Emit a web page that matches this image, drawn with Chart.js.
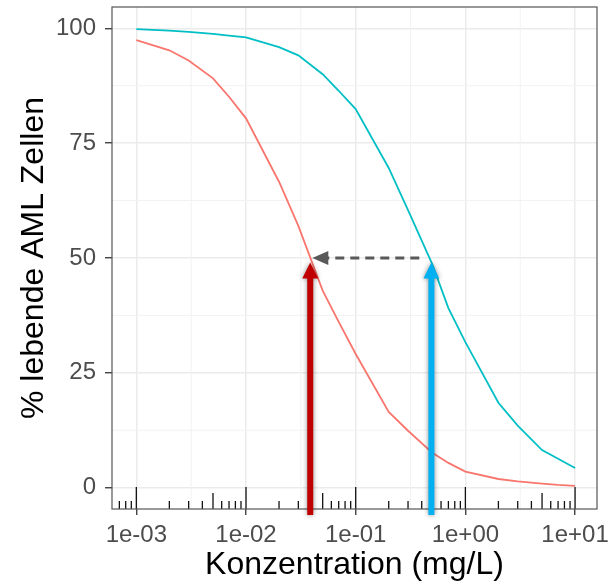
<!DOCTYPE html>
<html><head><meta charset="utf-8">
<script src="https://cdn.jsdelivr.net/npm/chart.js@4"></script>
<style>html,body{margin:0;padding:0;background:#fff}</style>
</head><body>
<canvas id="c" width="615" height="584" style="width:615px;height:584px;display:block"></canvas>
<script>
// ---- data ----
const concentrations = [0.001,0.002,0.003,0.005,0.007,0.01,0.02,0.03,0.05,0.07,0.1,0.2,0.3,0.5,0.7,1,2,3,5,7,10];
const survivalRed  = [97.4,95.2,93.0,89.1,85.1,80.4,66.6,57.0,42.9,36.1,29.1,16.5,12.4,7.6,5.4,3.5,1.9,1.4,0.9,0.6,0.4];
const survivalCyan = [99.8,99.5,99.2,98.8,98.4,98.0,95.9,94.1,90.0,86.4,82.4,69.6,60.4,48.6,39.1,31.7,18.5,13.5,8.2,6.3,4.3];
const xTickValues = [0.001,0.01,0.1,1,10];
const xTickLabels = ['1e-03','1e-02','1e-01','1e+00','1e+01'];
const yTickValues = [0,25,50,75,100];
const ic50Values = [0.0385, 0.49];   // red arrow, blue arrow
const arrowTipLevel = 49;
const shiftArrowFrom = 0.38, shiftArrowTo = 0.0402, shiftLevel = 50;

const FONT = "'Liberation Sans', Arial, sans-serif";

function arrowUp(ctx, x, yb, yt, color){
  const sw = 3, hw = 8, hl = 16;
  ctx.save();
  ctx.shadowColor = 'rgba(0,0,0,0.45)';
  ctx.shadowBlur = 5;
  ctx.fillStyle = color;
  ctx.beginPath();
  ctx.moveTo(x - sw, yb);
  ctx.lineTo(x - sw, yt + hl);
  ctx.lineTo(x - hw, yt + hl);
  ctx.lineTo(x, yt);
  ctx.lineTo(x + hw, yt + hl);
  ctx.lineTo(x + sw, yt + hl);
  ctx.lineTo(x + sw, yb);
  ctx.closePath();
  ctx.fill();
  ctx.restore();
}

const panelPlugin = {
  id: 'panel',
  beforeDatasetsDraw(chart){
    const {ctx, chartArea:a, scales:{x, y}} = chart;
    ctx.save();
    ctx.strokeStyle = '#F2F2F2';
    ctx.lineWidth = 1;
    for (let d = -4; d <= 1; d++){
      const px = x.getPixelForValue(Math.pow(10, d + 0.5));
      if (px > a.left && px < a.right){
        ctx.beginPath(); ctx.moveTo(px, a.top); ctx.lineTo(px, a.bottom); ctx.stroke();
      }
    }
    for (let i = 0; i < yTickValues.length - 1; i++){
      const py = y.getPixelForValue((yTickValues[i] + yTickValues[i+1]) / 2);
      ctx.beginPath(); ctx.moveTo(a.left, py); ctx.lineTo(a.right, py); ctx.stroke();
    }
    ctx.restore();
  },
  afterDatasetsDraw(chart){
    const {ctx, chartArea:a, scales:{x}} = chart;
    ctx.save();
    ctx.strokeStyle = '#111';
    ctx.lineWidth = 1.3;
    for (let d = -4; d <= 1; d++){
      for (let k = 1; k <= 9; k++){
        const px = x.getPixelForValue(k * Math.pow(10, d));
        if (px <= a.left + 1 || px >= a.right - 1) continue;
        const len = k === 1 ? 22 : (k === 5 ? 16 : 8);
        ctx.beginPath(); ctx.moveTo(px, a.bottom); ctx.lineTo(px, a.bottom - len); ctx.stroke();
      }
    }
    ctx.strokeStyle = '#555';
    ctx.lineWidth = 1.2;
    ctx.strokeRect(a.left, a.top, a.right - a.left, a.bottom - a.top);
    ctx.restore();
  },
  afterDraw(chart){
    const {ctx, chartArea:a, scales:{x, y}} = chart;
    const x1 = x.getPixelForValue(shiftArrowFrom);
    const x2 = x.getPixelForValue(shiftArrowTo);
    const yy = y.getPixelForValue(shiftLevel);
    ctx.save();
    ctx.strokeStyle = '#595959';
    ctx.fillStyle = '#595959';
    ctx.lineWidth = 3;
    ctx.setLineDash([9, 6]);
    ctx.beginPath(); ctx.moveTo(x1, yy); ctx.lineTo(x2 + 15, yy); ctx.stroke();
    ctx.setLineDash([]);
    ctx.beginPath();
    ctx.moveTo(x2, yy); ctx.lineTo(x2 + 16, yy - 7); ctx.lineTo(x2 + 16, yy + 7); ctx.closePath();
    ctx.fill();
    ctx.restore();
    const yb = a.bottom + 6;
    const yt = y.getPixelForValue(arrowTipLevel);
    arrowUp(ctx, x.getPixelForValue(ic50Values[0]), yb, yt, '#C00000');
    arrowUp(ctx, x.getPixelForValue(ic50Values[1]), yb, yt, '#00B0F0');
  }
};

new Chart(document.getElementById('c'), {
  type: 'line',
  data: {
    datasets: [
      { data: concentrations.map((c, i) => ({x: c, y: survivalRed[i]})),
        borderColor: '#F8766D', borderWidth: 1.8, pointRadius: 0, tension: 0, fill: false },
      { data: concentrations.map((c, i) => ({x: c, y: survivalCyan[i]})),
        borderColor: '#00BFC4', borderWidth: 1.8, pointRadius: 0, tension: 0, fill: false }
    ]
  },
  options: {
    responsive: false,
    devicePixelRatio: 1,
    animation: false,
    layout: { padding: { top: 7, right: 18, left: 0, bottom: 0 } },
    plugins: { legend: { display: false }, tooltip: { enabled: false } },
    scales: {
      x: {
        type: 'logarithmic',
        min: Math.pow(10, -3.195),
        max: Math.pow(10, 1.2),
        afterBuildTicks(s){ s.ticks = xTickValues.map(v => ({value: v})); },
        afterFit(s){ s.height = 75; s.paddingLeft = 0; s.paddingRight = 0; },
        ticks: {
          autoSkip: false, maxRotation: 0, padding: 6,
          color: '#4D4D4D', font: { family: FONT, size: 24 },
          callback: (v) => { const i = xTickValues.indexOf(v); return i >= 0 ? xTickLabels[i] : ''; }
        },
        grid: { color: '#EBEBEB', lineWidth: 1.5, tickColor: '#333', tickLength: 6, tickWidth: 1.3 },
        border: { display: false },
        title: { display: true, text: 'Konzentration (mg/L)', color: '#000',
                 font: { family: FONT, size: 32 }, padding: { top: 0, bottom: 0 } }
      },
      y: {
        min: -4.63, max: 104.63,
        afterBuildTicks(s){ s.ticks = yTickValues.map(v => ({value: v})); },
        afterFit(s){ s.width = 112; s.paddingTop = 0; s.paddingBottom = 0; },
        ticks: { padding: 9, color: '#4D4D4D', font: { family: FONT, size: 24 } },
        grid: { color: '#EBEBEB', lineWidth: 1.5, tickColor: '#333', tickLength: 7, tickWidth: 1.3 },
        border: { display: false },
        title: { display: true, text: '% lebende AML Zellen', color: '#000',
                 font: { family: FONT, size: 32 }, padding: { top: 15, bottom: 0 } }
      }
    }
  },
  plugins: [panelPlugin]
});
</script>
</body></html>
